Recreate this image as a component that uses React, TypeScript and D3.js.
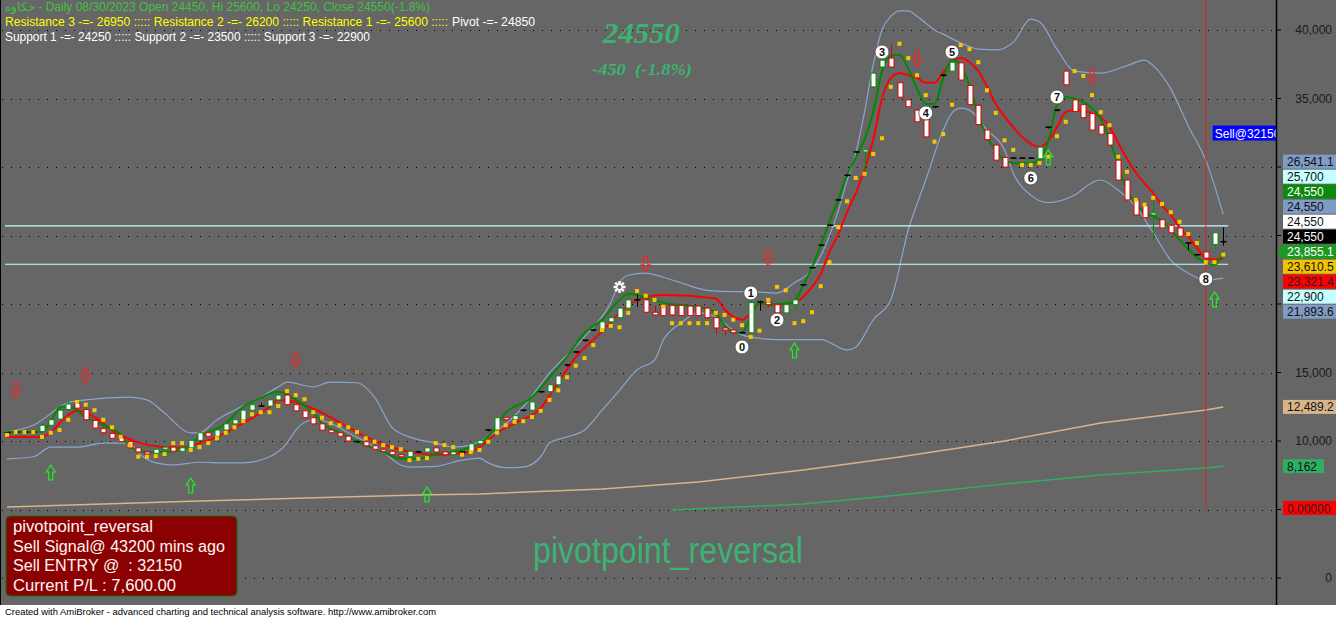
import React from "react";
import * as d3 from "d3";

// ---------- DATA ----------
// Daily bars [open, high, low, close]
const ohlc: [number, number, number, number][] = [
  [10550,10650,10500,10600],[10600,10700,10600,10650],[10650,10700,10600,10650],[10650,10700,10600,10650],
  [10700,11250,10650,11150],[11150,11650,11100,11550],[11600,12350,11550,12250],[12300,12900,12200,12700],
  [12750,12800,12200,12400],[12300,12350,11450,11550],[11500,11550,10900,10950],[10900,11000,10550,10600],
  [10550,10600,10150,10200],[10250,10300,9900,9950],[9950,10000,9450,9500],[9500,9550,9100,9200],
  [9200,9250,9000,9050],[9100,9450,9050,9400],[9400,9600,9350,9550],[9550,9600,9200,9250],
  [9250,9550,9200,9500],[9500,10100,9450,10050],[10050,10650,10000,10600],[10600,10650,10300,10350],
  [10350,10850,10300,10800],[10800,11300,10750,11250],[11250,11600,11200,11550],[11550,12300,11500,12250],
  [12250,12700,12200,12650],[12650,12750,12500,12550],[12550,13050,12500,13000],[13000,13450,12950,13350],
  [13350,13400,12600,12650],[12650,12700,12150,12200],[12200,12250,11650,11700],[11700,11750,11200,11250],
  [11250,11300,10750,10800],[10800,10850,10550,10600],[10600,10650,10300,10350],[10350,10400,9950,10000],
  [10000,10050,9900,9950],[9950,10000,9600,9650],[9650,9700,9350,9400],[9400,9450,9200,9250],
  [9250,9300,8950,9000],[9000,9050,8800,8850],[8850,9300,8800,9250],[9250,9300,9150,9200],
  [9200,9550,9150,9500],[9500,9550,9150,9200],[9200,9250,8950,9000],[9000,9250,8950,9200],
  [9200,9250,9150,9200],[9200,9850,9150,9800],[9800,10100,9750,10050],[10750,10850,10700,10800],
  [10800,11750,10750,11700],[11700,11750,11500,11550],[11550,11900,11500,11850],[12200,12300,12150,12250],
  [12250,12900,12200,12850],[13550,13650,13500,13600],[13600,14150,13550,14100],[14100,14800,14050,14750],
  [15500,15600,15450,15550],[16450,16550,16400,16500],[17300,17400,17250,17350],[18050,18150,18000,18100],
  [18100,18750,18050,18700],[18700,19050,18500,19000],[19000,19750,18950,19700],[19700,20800,19650,20300],
  [20300,20700,19800,20300],[20300,20350,19350,19400],[19400,19900,19150,19200],[19900,19950,19100,19150],
  [19900,19950,19150,19200],[19900,19950,19100,19150],[19850,19900,19100,19150],[19850,19900,19100,19150],
  [19700,19750,18950,19000],[19000,19050,17800,18250],[18250,18300,17700,18100],[18100,18150,17800,17900],
  [17900,18000,17850,17900],[17900,20800,17850,20100],[20100,20250,19500,20150],[20150,20200,19800,19950],
  [19950,20000,19000,19350],[19350,20000,19300,19950],[19950,20700,19450,20300],[21350,21450,21300,21400],
  [22600,22700,22550,22650],[24250,24350,24200,24300],[25700,25800,25650,25750],[27550,27650,27500,27600],
  [29350,29450,29300,29400],[31050,31150,31000,31100],[31100,31300,29550,31250],[35850,36900,35800,36850],
  [37300,37900,37200,37800],[37950,38900,37250,37300],[36150,36200,35100,35100],[34900,34950,34400,34400],
  [34150,34200,33300,33300],[33450,33500,32200,32200],[34350,34400,34300,34400],[36650,36750,36600,36700],
  [37000,37900,36950,37650],[37600,37650,36300,36350],[35950,36000,34500,34550],[34500,34550,33050,33100],
  [32700,32750,31950,32000],[31600,31650,30500,30500],[30700,30750,30000,30000],[30650,30700,30600,30650],
  [30650,30700,30600,30650],[30650,30700,30600,30650],[30600,31500,30550,31450],[32850,32950,32800,32900],
  [34100,34200,34050,34150],[37000,37100,36000,36000],[34900,34950,34050,34050],[34550,34600,33600,33600],
  [33900,33950,32700,32700],[33050,33100,32400,32400],[32450,32500,31600,31600],[30500,30550,29050,29050],
  [29050,29100,27600,27600],[27600,27650,26500,26500],[27200,27250,26300,26300],[26500,27550,24700,26650],
  [26150,26200,25550,25550],[25750,25800,25200,25200],[25550,25600,24950,24950],[24450,24500,23950,24450],
  [23600,23650,23550,23600],[23800,23850,23350,23350],[24350,25200,24000,25200],[24450,25600,24250,24550],
];

// fast moving average [bar, value]
const fastMA: [number, number][] = [
  [0,10650],[4,10700],[5,11400],[6,12450],[7,12550],[9,11750],[11,11150],[13,10450],[14,9600],[16,9200],
  [18,9200],[20,9350],[22,10300],[25,11300],[27,12500],[29,13150],[31,13600],[33,13000],[35,12050],[36,11300],
  [38,10600],[40,9950],[43,9200],[45,8700],[47,8700],[49,9050],[52,9350],[55,10300],[57,12050],[60,13200],
  [62,14650],[64,16150],[66,17900],[68,18850],[70,20300],[71,20750],[72,20650],[73,20450],[75,20100],[80,19650],
  [81,19350],[82,18450],[83,17950],[84,17900],[85,19050],[86,20100],[87,19950],[89,20050],[90,20150],[91,21400],
  [92,22650],[93,24300],[94,26000],[95,27600],[96,29400],[97,30700],[98,32000],[99,34000],[100,37000],[101,38100],
  [102,38200],[103,37200],[104,35700],[105,34600],[106,34600],[107,36500],[108,37800],[109,37500],[110,35900],[111,33800],
  [112,32200],[113,31200],[114,30500],[115,30300],[116,30300],[117,30300],[118,30500],[119,31900],[120,34500],[121,35100],
  [122,35000],[123,34750],[124,34300],[125,33500],[126,32000],[127,30100],[128,28300],[129,27300],[130,26700],[131,26400],
  [132,26100],[133,25400],[134,24700],[135,24000],[136,23400],[137,23000],[138,22850],[139,23855.1],
];

// slow moving average [bar, value]
const slowMA: [number, number][] = [
  [0,10300],[4,10300],[5,10650],[7,11900],[8,12200],[10,11750],[12,10800],[15,9900],[18,9550],[20,9500],
  [22,9850],[24,10300],[27,11300],[30,12500],[31,13000],[33,12850],[36,12050],[39,11000],[41,10300],[45,9350],
  [49,9000],[53,9200],[54,9550],[56,10600],[58,11300],[61,12400],[63,14300],[65,16100],[68,18000],[70,19350],
  [72,20300],[73,20500],[75,20650],[81,20400],[82,19600],[84,18850],[85,19350],[86,20050],[88,19950],[90,20100],
  [92,21250],[93,22200],[94,23800],[95,25100],[96,26700],[97,28100],[98,29800],[99,32000],[100,35000],[101,36500],
  [102,36850],[103,36700],[104,36500],[105,36150],[106,36150],[107,36900],[108,37700],[109,37950],[110,37650],[111,37000],
  [112,35900],[113,34600],[114,33700],[115,32900],[116,32200],[117,31700],[118,31450],[119,31900],[120,32900],[121,34000],
  [122,34150],[123,34150],[124,33900],[125,33650],[126,32950],[127,31750],[128,30600],[129,29600],[130,28800],[131,28100],
  [132,27200],[133,26500],[134,25600],[135,24900],[136,24100],[137,23360],[138,23250],[139,23321.4],
];

const upperBand: [number, number][] = [
  [0,10650],[3,11150],[7,12800],[9,13000],[14,13200],[16,13000],[18,12050],[21,10600],[22,10600],[24,11550],
  [26,12250],[29,13200],[31,13950],[32,14300],[35,13950],[37,14300],[40,14250],[42,13200],[44,11000],[46,10300],
  [49,9850],[51,9550],[53,9700],[55,10300],[59,12500],[62,14950],[66,17600],[69,20100],[70,21550],[71,22100],
  [73,22250],[75,21950],[77,21550],[80,21000],[83,20900],[85,20900],[88,20800],[90,21550],[92,22500],[93,23500],
  [94,25000],[95,26800],[96,29000],[97,31000],[98,34000],[99,37500],[100,40000],[101,41000],[102,41400],[103,41400],
  [104,41000],[105,40500],[106,40000],[107,39700],[109,39050],[111,38600],[113,38550],[115,39100],[117,40800],[118,40600],
  [120,38600],[122,37000],[125,36850],[128,37400],[130,37800],[131,37400],[133,35700],[135,33000],[137,30500],[139,26541.1],
];

const lowerBand: [number, number][] = [
  [0,8700],[3,8850],[5,9550],[8,9550],[11,9850],[14,9850],[15,9150],[17,8400],[19,8250],[22,8450],
  [25,8400],[27,8400],[30,8850],[32,9850],[33,10800],[35,11550],[37,11300],[39,10600],[41,9950],[43,9200],
  [45,8250],[46,8100],[49,8150],[52,8600],[54,8750],[55,8400],[57,8050],[59,8100],[61,8850],[62,9850],
  [64,10300],[66,10800],[68,12250],[70,13700],[72,15200],[74,15900],[75,17350],[77,18600],[79,19350],[81,19050],
  [83,18100],[84,17750],[86,17500],[88,17400],[91,17400],[93,17400],[96,16650],[97,16850],[99,18850],[101,20300],
  [103,25400],[105,29050],[107,32700],[108,33950],[109,34300],[110,34150],[112,32700],[114,31250],[115,29550],[117,27950],
  [119,27400],[122,27950],[124,28850],[125,29050],[127,28300],[129,27100],[131,25200],[133,23200],[135,22250],[137,21750],
  [139,21893.6],
];

// stop-and-reverse dots, one per bar
const sar: number[] = [
  10450,10650,10650,10650,10300,10600,10800,11550,12850,12650,12250,11550,11000,10300,9700,8850,8850,8900,9050,9850,
  9850,9350,9550,9850,10200,10600,11000,11450,11950,12100,12100,12550,13650,13350,13050,12100,11700,11300,11150,11000,
  10650,10200,9950,9700,9550,9400,8600,8700,8750,9850,9700,9550,9000,9200,9350,9950,10600,11150,11400,11450,
  11750,12200,13000,13700,14650,15500,16050,17000,18100,18400,18300,19350,20950,20600,20300,19800,18600,18600,18600,18600,
  18600,19350,19200,18850,18450,17600,18050,20300,21250,21000,18600,18750,19400,21300,23050,25600,27500,29200,29500,30950,
  32100,35850,39000,37950,36700,35250,31850,32400,34550,38900,38600,37650,35600,33950,31950,31250,30150,30150,30300,30750,
  32250,33300,37000,36650,35250,34000,33050,30750,29650,27600,27250,27750,27300,26700,26000,25100,24450,23050,23050,23610.5,
];

// long-term averages [bar, value]
const longMA: [number, number][] = [
  [0,5180],[11,5400],[22,5620],[34,5840],[47,6060],[54,6130],[68,6500],[79,7010],[91,7880],[102,8830],
  [114,10000],[125,11320],[137,12260],[139,12489.2],
];
const longMA2: [number, number][] = [
  [76,4960],[91,5400],[102,6060],[114,6860],[125,7520],[137,8030],[139,8162],
];

const pivotLevels = [25700, 22900];
const sellArrows: [number, number][] = [[1,13140],[9,14235],[33,15330],[73,22340],[87,22776],[104,37303],[124,35989]];
const buyArrows: [number, number][] = [[5,8249],[21,7300],[48,6643],[90,17155],[119,31244],[138,20878]];
const waveLabels: [string, number, number][] = [
  ["0",84,16863],["1",85,20805],["2",88,18834],["3",100,38398],["4",105,33945],
  ["5",108,38398],["6",117,29200],["7",120,35113],["8",137,21827],
];
const starMark: [number, number] = [70, 21243];
const signalBar = 137; // sell signal histogram (own 0..1 scale)
const yTicks = [0, 5000, 10000, 15000, 20000, 25000, 30000, 35000, 40000];

const stackKeys = ["upper","r1","close1","close2","close3","close4","fast","sar","slow","s3","lower"];
const stackValues = [26541.1, 25700, 24550, 24550, 24550, 24550, 23855.1, 23610.5, 23321.4, 22900, 21893.6];
const soloKeys = ["long","long2"];
const soloValues = [12489.2, 8162];

const header1 = "خكاوه - Daily 08/30/2023 Open 24450, Hi 25600, Lo 24250, Close 24550(-1.8%)";
const header2a = "Resistance 3 -=- 26950 ::::: Resistance 2 -=- 26200 ::::: Resistance 1 -=- 25600 :::::";
const header2b = "Pivot -=- 24850";
const header3 = "Support 1 -=- 24250 ::::: Support 2 -=- 23500 ::::: Support 3 -=- 22900";
const bigClose = "24550";
const bigChange = "-450  (-1.8%)";
const boxLines = ["pivotpoint_reversal", "Sell Signal@ 43200 mins ago", "Sell ENTRY @  : 32150", "Current P/L : 7,600.00"];
const sellTag = "Sell@32150";
const footer = "Created with AmiBroker - advanced charting and technical analysis software. http://www.amibroker.com";

// ---------- STYLE ----------
const labelStyle: Record<string, { bg: string; fg: string }> = {
  upper: { bg: "#7f9cc6", fg: "#111" }, r1: { bg: "#c6ffff", fg: "#111" },
  close1: { bg: "#0b8a0b", fg: "#fff" }, close2: { bg: "#7f9cc6", fg: "#111" },
  close3: { bg: "#ffffff", fg: "#111" }, close4: { bg: "#000000", fg: "#fff" },
  fast: { bg: "#1a9a22", fg: "#fff" }, sar: { bg: "#f2c400", fg: "#111" },
  slow: { bg: "#ff0000", fg: "#222" }, s3: { bg: "#c6ffff", fg: "#111" },
  lower: { bg: "#7f9cc6", fg: "#111" }, long: { bg: "#d8b48a", fg: "#111" },
  long2: { bg: "#2fae63", fg: "#111" },
};

const BG = "#666666";
const AXIS_X = 1276;
const PLOT_BOTTOM = 605;

export default function App() {
  const x = d3.scaleLinear().domain([0, ohlc.length - 1]).range([7, 1223.25]);
  const y = d3.scaleLinear().domain([0, 40000]).range([578, 30]);
  const ySignal = d3.scaleLinear().domain([0, 1]).range([508, 0]);

  const smooth = d3.line<[number, number]>().x(d => x(d[0])).y(d => y(d[1])).curve(d3.curveMonotoneX);
  const straight = d3.line<[number, number]>().x(d => x(d[0])).y(d => y(d[1]));

  const fmt = (v: number) => (Number.isInteger(v) ? d3.format(",")(v) : d3.format(",.1f")(v));

  // stacked value labels, centred on the close label
  const boxH = 15;
  const anchorIdx = 5;
  const anchorY = y(stackValues[anchorIdx]) - 5;
  const stackYs = stackValues.map((_, i) => anchorY + (i - anchorIdx) * boxH);
  const boxYs = [...stackYs, ...soloValues.map(v => y(v)), ySignal(0)];
  const showTick = (v: number) => boxYs.every(by => Math.abs(by - y(v)) > 9);

  const downArrow = "M-2,-15 L2,-15 L2,-7 L4.5,-7 L0,0 L-4.5,-7 L-2,-7 Z";
  const upArrow = "M-2,15 L2,15 L2,7 L4.5,7 L0,0 L-4.5,7 L-2,7 Z";

  const sans = "'Liberation Sans', Arial, sans-serif";
  const serif = "'Liberation Serif', 'Times New Roman', serif";

  return (
    <svg width={1336} height={619} style={{ position: "fixed", left: 0, top: 0, display: "block" }}>
      <defs>
        <clipPath id="plot"><rect x={0} y={0} width={AXIS_X} height={PLOT_BOTTOM} /></clipPath>
      </defs>
      <rect x={0} y={0} width={1336} height={PLOT_BOTTOM} fill={BG} />
      <rect x={0} y={PLOT_BOTTOM} width={1336} height={619 - PLOT_BOTTOM} fill="#ffffff" />
      <line x1={0.5} x2={0.5} y1={0} y2={PLOT_BOTTOM} stroke="#000" />

      {/* grid */}
      {yTicks.map(t => (
        <line key={"g" + t} x1={2} x2={AXIS_X} y1={Math.round(y(t)) + 0.5} y2={Math.round(y(t)) + 0.5}
          stroke="#000" strokeDasharray="1 8" />
      ))}

      <g clipPath="url(#plot)">
        {/* long averages */}
        <path d={straight(longMA) || ""} fill="none" stroke="#d8b48a" strokeWidth={1.5} />
        <path d={straight(longMA2) || ""} fill="none" stroke="#2fae63" strokeWidth={1.5} />

        {/* bands */}
        <path d={smooth(upperBand) || ""} fill="none" stroke="#8aa6cf" strokeWidth={1.2} />
        <path d={smooth(lowerBand) || ""} fill="none" stroke="#8aa6cf" strokeWidth={1.2} />

        {/* pivot levels */}
        {pivotLevels.map(v => (
          <line key={"p" + v} x1={x(0) - 2} x2={x(ohlc.length - 1) + 5} y1={y(v)} y2={y(v)} stroke="#c6ffff" strokeWidth={1.2} />
        ))}

        {/* signal histogram */}
        <line x1={x(signalBar)} x2={x(signalBar)} y1={ySignal(1)} y2={ySignal(0)} stroke="#e02020" strokeWidth={1} />

        {/* averages */}
        <path d={smooth(slowMA) || ""} fill="none" stroke="#ff0000" strokeWidth={2} />
        <path d={smooth(fastMA) || ""} fill="none" stroke="#008a00" strokeWidth={2} />

        {/* candles */}
        {ohlc.map(([o, h, l, c], i) => {
          const cx = Math.round(x(i)) + 0.5;
          const doji = Math.abs(c - o) < 120;
          const col = doji ? "#000" : c > o ? "#0a8a0a" : "#e00000";
          const top = y(Math.max(o, c));
          const bot = y(Math.min(o, c));
          return (
            <g key={"c" + i}>
              <line x1={cx} x2={cx} y1={y(h)} y2={y(l)} stroke={col} strokeWidth={1} />
              {doji ? (
                <line x1={cx - 3} x2={cx + 3} y1={y(c)} y2={y(c)} stroke="#000" strokeWidth={1.5} />
              ) : (
                <rect x={cx - 2.5} y={top} width={5} height={Math.max(1, bot - top)} fill="#fff" stroke={col} strokeWidth={1} />
              )}
            </g>
          );
        })}

        {/* SAR dots */}
        {sar.map((v, i) => (
          <rect key={"s" + i} x={x(i) - 2} y={y(v) - 2} width={4} height={4} fill="#f5c800" />
        ))}

        {/* arrows */}
        {sellArrows.map(([b, v]) => (
          <path key={"sa" + b} d={downArrow} transform={`translate(${x(b)},${y(v)})`} fill="none" stroke="#ff2020" strokeWidth={1.2} />
        ))}
        {buyArrows.map(([b, v]) => (
          <path key={"ba" + b} d={upArrow} transform={`translate(${x(b)},${y(v)})`} fill="none" stroke="#22ee22" strokeWidth={1.2} />
        ))}

        {/* wave labels */}
        {waveLabels.map(([t, b, v]) => (
          <g key={"w" + t} transform={`translate(${x(b)},${y(v)})`}>
            <circle r={7} fill="#fff" stroke="#444" strokeWidth={0.8} />
            <text y={4} textAnchor="middle" fontFamily={sans} fontWeight="bold" fontSize={11} fill="#111">{t}</text>
          </g>
        ))}
        <g transform={`translate(${x(starMark[0])},${y(starMark[1])})`} stroke="#fff" strokeWidth={2.5}>
          {[0, 45, 90, 135].map(a => (
            <line key={"st" + a} x1={-6} x2={6} y1={0} y2={0} transform={`rotate(${a})`} />
          ))}
          <circle r={2} fill={BG} stroke="none" />
        </g>

        {/* sell tag */}
        <g transform={`translate(${x(signalBar) + 7},${y(32150) - 12})`}>
          <rect x={0} y={0} width={80} height={15} fill="#0000ff" />
          <text x={2} y={12} fontFamily={sans} fontSize={12} fill="#fff">{sellTag}</text>
        </g>
      </g>

      {/* header */}
      <text x={5} y={11} fontFamily={sans} fontSize={12} fill="#3ec43e" textLength={425} lengthAdjust="spacingAndGlyphs">{header1}</text>
      <text x={5} y={26} fontFamily={sans} fontSize={12} fill="#ffff00" textLength={443} lengthAdjust="spacingAndGlyphs">{header2a}</text>
      <text x={452} y={26} fontFamily={sans} fontSize={12} fill="#ffffff" textLength={83} lengthAdjust="spacingAndGlyphs">{header2b}</text>
      <text x={5} y={41} fontFamily={sans} fontSize={12} fill="#ffffff" textLength={365} lengthAdjust="spacingAndGlyphs">{header3}</text>

      <text x={603} y={43} fontFamily={serif} fontStyle="italic" fontWeight="bold" fontSize={30} fill="#3cb371" textLength={77} lengthAdjust="spacingAndGlyphs">{bigClose}</text>
      <text x={592} y={75} fontFamily={serif} fontStyle="italic" fontWeight="bold" fontSize={17} fill="#3cb371" style={{ whiteSpace: "pre" }} textLength={100} lengthAdjust="spacingAndGlyphs">{bigChange}</text>

      <text x={533} y={563} fontFamily={sans} fontSize={36} fill="#3cb371" textLength={270} lengthAdjust="spacingAndGlyphs">{boxLines[0]}</text>

      {/* info box */}
      <rect x={6} y={516} width={231} height={80} rx={4} fill="#8b0000" stroke="#0a7a0a" strokeWidth={1} />
      {boxLines.map((t, i) => (
        <text key={"bl" + i} x={13} y={532 + i * 19.5} fontFamily={sans} fontSize={16} fill="#fff4f4" style={{ whiteSpace: "pre" }}
          textLength={[140, 212, 169, 163][i]} lengthAdjust="spacingAndGlyphs">{t}</text>
      ))}

      {/* right axis */}
      <line x1={AXIS_X + 0.5} x2={AXIS_X + 0.5} y1={0} y2={PLOT_BOTTOM} stroke="#000" strokeWidth={1.5} />
      {yTicks.map(t => (
        <g key={"t" + t}>
          <line x1={AXIS_X} x2={AXIS_X + 5} y1={y(t)} y2={y(t)} stroke="#000" />
          {showTick(t) && (
            <text x={1332} y={y(t) + 4} textAnchor="end" fontFamily={sans} fontSize={12} fill="#1a1a1a">{d3.format(",")(t)}</text>
          )}
        </g>
      ))}

      {/* value labels */}
      {stackValues.map((v, i) => {
        const st = labelStyle[stackKeys[i]];
        const cy = stackYs[i];
        return (
          <g key={"lb" + i}>
            {stackKeys[i] === "fast" && (
              <path d={`M${AXIS_X + 1},${cy} L1283,${cy - 7} L1283,${cy + 7} Z`} fill={st.bg} />
            )}
            <rect x={1283} y={cy - 7} width={53} height={14} fill={st.bg} />
            <text x={1287} y={cy + 4.5} fontFamily={sans} fontSize={12} fill={st.fg}>{fmt(v)}</text>
          </g>
        );
      })}
      {soloValues.map((v, i) => {
        const st = labelStyle[soloKeys[i]];
        const cy = y(v);
        const w = fmt(v).length * 7 + 6;
        return (
          <g key={"so" + i}>
            <rect x={1283} y={cy - 7} width={Math.min(53, w)} height={14} fill={st.bg} />
            <text x={1287} y={cy + 4.5} fontFamily={sans} fontSize={12} fill={st.fg}>{fmt(v)}</text>
          </g>
        );
      })}
      <g>
        <rect x={1283} y={ySignal(0) - 7} width={53} height={14} fill="#ff0000" />
        <text x={1287} y={ySignal(0) + 4.5} fontFamily={sans} fontSize={12} fill="#222">{d3.format(".5f")(0)}</text>
      </g>

      <text x={5} y={615} fontFamily={sans} fontSize={9} fill="#000" textLength={431} lengthAdjust="spacingAndGlyphs">{footer}</text>
    </svg>
  );
}
